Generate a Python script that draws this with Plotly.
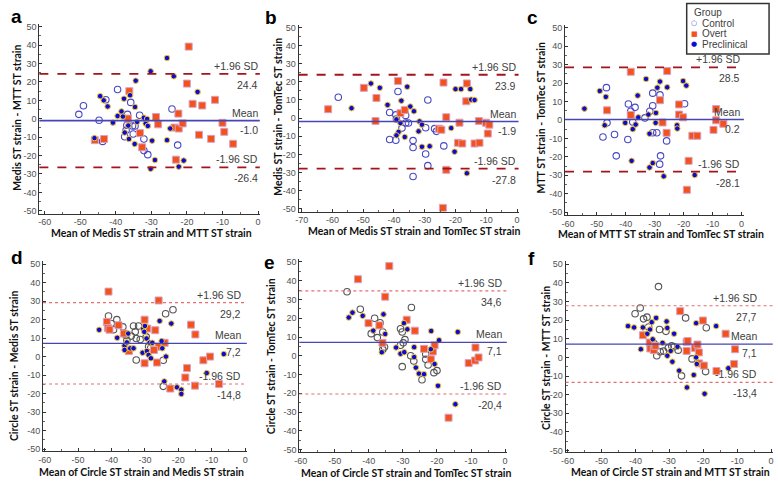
import plotly.graph_objects as go

W, H = 778, 481

# ---------------- data ----------------
# Panel a: Medis vs MTT
A_CONTROL_X = [-50.4, -49.1, -44.7, -43.7, -42.8, -39.5, -36.7, -35.8, -36.9, -37.1, -37.5, -35.3, -34.6, -35.1, -33.3, -32.1, -32.1, -31.0, -24.2, -22.6]
A_CONTROL_Y = [2.4, 7.1, -0.8, -12.3, 10.3, 15.9, 2.4, 8.9, -3.5, -6.2, -9.8, -3.9, -3.9, -8.3, 1.9, -11.0, -17.3, -19.5, 5.3, -14.3]
A_OVERT_X = [-45.9, -43.3, -36.2, -36.6, -33.2, -32.6, -28.7, -28.1, -23.5, -22.3, -21.2, -22.4, -23.1, -19.5, -20.0, -18.4, -15.7, -16.6, -13.2, -12.1, -10.0, -9.5, -7.0]
A_OVERT_Y = [-11.6, -11.0, 15.0, 0.1, -7.8, -15.5, 1.0, -3.0, -4.8, -5.3, -2.5, 2.8, -22.2, 39.2, 19.1, 8.1, 7.2, -8.7, -10.9, 10.3, -2.2, -7.1, -13.6]
A_PRE_X = [-46.0, -44.4, -43.4, -42.3, -40.8, -39.5, -38.4, -38.0, -37.7, -37.5, -36.5, -36.0, -36.3, -34.6, -34.4, -34.7, -34.0, -32.1, -31.6, -31.2, -31.0, -30.2, -30.2, -29.8, -29.0, -25.6, -25.6, -24.7, -23.7, -22.3, -20.9, -17.0]
A_PRE_Y = [-10.5, 12.3, 10.0, 6.7, -2.1, 1.5, 4.0, 1.2, 10.9, -7.5, -3.7, 12.8, -11.0, 6.4, 20.7, -13.7, -1.7, 0.6, -2.6, -0.1, -3.9, 25.8, -27.2, -11.9, -22.4, 33.0, -11.6, -5.3, 23.1, -26.0, -22.7, 14.6]
A_STATS = [-1.0, 24.4, -26.4]  # mean, upper, lower

# Panel b: Medis vs TomTec
B_CONTROL_X = [-58.1, -38.7, -41.4, -39.4, -39.2, -36.2, -36.2, -37.4, -35.3, -41.4, -39.4, -33.8, -33.8, -29.0, -29.7, -29.7, -29.0, -33.8, -26.8, -26.2, -23.8]
B_CONTROL_Y = [11.5, 14.7, 3.1, 1.8, -0.5, 1.5, -2.7, -5.5, -2.7, -11.8, -12.2, -12.4, -16.2, 10.0, -5.3, -19.8, -26.2, -32.2, -5.8, -7.3, -15.3]
B_OVERT_X = [-61.4, -49.8, -45.7, -46.0, -38.7, -37.9, -36.5, -23.9, -23.0, -25.4, -24.6, -23.0, -24.1, -18.7, -19.2, -17.8, -16.3, -16.5, -13.8, -12.2, -12.4, -10.1, -9.0, -9.5]
B_OVERT_Y = [4.9, 16.7, 11.1, -1.6, 20.5, 2.7, 4.5, 19.6, 0.5, -5.8, -6.4, -28.5, -49.5, -2.5, -13.6, -14.0, 19.1, 9.3, -14.0, -13.6, -1.6, -2.5, -3.6, -8.5]
B_PRE_X = [-53.8, -47.5, -44.6, -42.1, -37.6, -35.7, -34.7, -33.5, -39.2, -37.9, -38.5, -39.2, -36.5, -31.7, -30.9, -32.0, -30.9, -28.4, -21.4, -20.3, -20.0, -18.2, -15.2, -14.9, -13.8, -16.3]
B_PRE_Y = [5.5, 19.1, 16.7, 7.3, 9.6, 17.3, 6.4, 3.8, -0.7, -2.7, -7.6, -9.5, -10.4, -1.8, -3.6, -7.3, -15.8, -15.5, -5.5, -18.5, 16.0, 16.0, 16.0, 10.2, 10.0, -30.4]
B_STATS = [-1.9, 23.9, -27.8]

# Panel c: MTT vs TomTec
C_CONTROL_X = [-47.9, -46.7, -46.5, -43.9, -43.3, -39.1, -39.3, -38.3, -36.8, -37.6, -33.4, -31.7, -30.7, -30.7, -30.7, -29.3, -28.2, -28.0, -28.3, -25.9, -19.7]
C_CONTROL_Y = [-9.3, 17.5, -1.6, -7.9, -19.5, 8.6, -10.6, 4.7, 6.8, -1.1, 1.1, 4.7, 14.5, 7.7, -7.0, -7.0, 13.6, -19.5, -24.0, -11.4, 8.8]
C_OVERT_X = [-46.5, -38.3, -38.3, -28.2, -25.7, -27.3, -25.9, -21.6, -21.6, -20.2, -18.3, -18.9, -17.0, -15.3, -9.7, -8.8, -8.8, -6.3]
C_OVERT_Y = [5.2, 26.1, 2.7, 10.7, 26.5, -1.4, -7.0, 8.4, 2.9, 1.4, -22.2, -37.9, -8.6, -8.6, -5.4, 5.9, -0.2, -2.1]
C_PRE_X = [-54.3, -49.0, -46.9, -47.3, -40.2, -37.6, -36.6, -35.9, -35.7, -38.0, -33.0, -32.2, -31.8, -31.8, -30.7, -29.7, -29.6, -29.1, -28.2, -26.9, -25.7, -22.3, -22.2, -20.2, -19.1, -16.2]
C_PRE_Y = [6.1, 15.7, 12.5, -2.9, -1.6, -5.0, -2.5, 13.2, 1.4, -22.2, 22.2, 2.9, -7.5, -25.8, -23.4, -1.6, 3.8, 17.5, 20.8, -30.6, 17.7, -2.9, -4.7, 21.1, 18.6, -29.9]
C_STATS = [0.2, 28.5, -28.1]

# Panel d: Circle vs Medis
D_CONTROL_X = [-40.9, -40.1, -39.4, -38.4, -36.6, -35.7, -35.4, -34.1, -33.4, -32.9, -32.6, -31.9, -31.4, -32.6, -29.6, -28.9, -28.3, -23.8, -21.6, -24.5, -24.5]
D_CONTROL_Y = [22.0, 17.9, 14.6, 20.0, 16.1, 11.6, 8.9, 11.1, 16.6, 13.4, 9.8, 16.6, 9.3, -1.8, 10.7, 5.4, 4.5, 23.2, 25.4, -2.0, -16.1]
D_OVERT_X = [-40.9, -41.4, -41.1, -40.6, -37.9, -36.3, -34.8, -30.1, -29.3, -30.1, -26.9, -26.4, -25.9, -27.3, -25.9, -24.1, -22.4, -17.9, -17.4, -16.2, -14.9, -15.0, -12.5, -10.5, -7.8]
D_OVERT_Y = [35.2, 18.8, 15.5, 14.6, 17.0, 12.5, 3.0, 20.0, 15.2, -3.6, 14.3, -3.2, 5.4, 3.6, 30.4, 7.5, -17.3, -11.3, -6.2, 17.3, 12.0, -15.7, -2.0, 0.0, -14.8]
D_PRE_X = [-43.7, -38.3, -36.1, -36.1, -35.4, -35.0, -34.4, -33.4, -30.5, -30.2, -30.0, -29.5, -30.7, -29.4, -28.9, -28.2, -28.6, -27.8, -24.8, -25.0, -25.6, -23.7, -24.2, -22.1, -20.4, -19.1, -19.1, -11.5, -6.4]
D_PRE_Y = [14.5, 10.2, 5.9, 3.6, 7.7, 12.5, 4.5, 4.5, 15.2, 13.4, 16.6, 9.8, 2.1, 3.0, 0.9, -0.9, 7.5, 7.5, 4.5, 8.4, 19.3, 0.0, -13.4, 17.9, -16.6, -17.9, -20.2, -8.9, 1.4]
D_STATS = [7.2, 29.2, -14.8]

# Panel e: Circle vs TomTec
E_CONTROL_X = [-46.4, -42.5, -38.3, -39.3, -36.7, -37.5, -35.9, -35.9, -35.4, -30.7, -30.2, -30.7, -29.9, -29.4, -30.2, -27.5, -27.7, -26.8, -24.4, -23.3, -23.3, -22.6, -20.9, -20.0]
E_CONTROL_Y = [34.1, 24.8, 20.0, 11.8, 17.6, 9.7, 12.7, 3.3, 4.7, 14.4, 12.7, 5.6, 6.9, 8.6, -5.8, 25.7, 0.0, -2.8, -12.8, 0.9, -1.9, -4.9, -9.0, -7.9]
E_OVERT_X = [-43.2, -34.0, -35.2, -40.1, -36.9, -36.0, -28.9, -26.5, -23.8, -21.8, -21.2, -20.7, -16.6, -8.7, -10.7, -8.8, -7.8]
E_OVERT_Y = [40.8, 47.8, 31.5, 17.4, 16.2, 6.9, 19.2, 13.4, 3.7, -1.9, 2.3, 5.6, -33.0, 4.4, -3.9, -2.5, -0.9]
E_PRE_X = [-45.9, -44.8, -41.8, -38.7, -35.7, -35.2, -36.2, -32.0, -30.7, -29.6, -29.7, -28.7, -26.7, -26.7, -26.2, -25.3, -23.8, -21.7, -21.8, -20.7, -19.4, -19.7, -13.9, -14.6]
E_PRE_Y = [20.4, 23.0, 21.3, 13.4, 22.1, 11.6, 1.9, 4.4, 1.1, 1.9, 17.4, 14.1, 4.6, -0.7, -6.3, -9.5, -9.8, 13.2, 3.5, -4.4, 8.3, -16.0, 12.7, -25.8]
E_STATS = [7.1, 34.6, -20.4]

# Panel f: Circle vs MTT
F_CONTROL_X = [-40.1, -38.6, -37.6, -36.6, -36.1, -33.2, -32.9, -31.0, -34.5, -33.7, -32.7, -31.7, -30.3, -29.3, -28.6, -27.4, -26.4, -25.2, -19.1, -19.3, -23.3]
F_CONTROL_Y = [23.4, 26.5, 20.7, 21.6, 16.3, 38.0, 15.0, 14.0, 7.4, 0.9, 3.0, 3.4, 5.1, 6.2, 5.7, 3.9, -9.9, 21.2, 15.9, -7.6, -0.8]
F_OVERT_X = [-37.8, -35.8, -35.6, -34.6, -34.1, -26.8, -24.9, -24.6, -24.9, -22.5, -21.7, -21.3, -21.2, -20.1, -19.8, -16.1, -13.4, -10.6, -10.9]
F_OVERT_Y = [11.9, 8.0, 4.8, 3.9, 6.2, 24.8, 8.3, 8.8, 3.5, 5.1, 6.9, 2.7, -3.2, 19.8, -4.4, -7.3, 12.7, 4.4, -3.5]
F_PRE_X = [-42.2, -40.4, -38.4, -37.8, -36.5, -35.7, -35.2, -34.9, -33.9, -32.0, -30.8, -30.6, -30.6, -29.6, -28.6, -29.1, -27.6, -27.1, -24.8, -22.8, -22.1, -22.1, -21.9, -19.6, -16.2, -12.6]
F_PRE_Y = [16.8, 16.1, 4.4, 16.1, 12.7, 15.0, 18.9, 9.7, 21.2, 7.8, 19.3, 15.8, 0.9, 3.5, 12.7, -2.3, 5.7, -7.1, -16.1, -9.4, 18.4, 0.0, -3.5, -19.5, 16.8, -5.8]
F_STATS = [7.1, 27.7, -13.4]

X_TICKS_60 = [-60, -50, -40, -30, -20, -10, 0]
X_TICKS_70 = [-70, -60, -50, -40, -30, -20, -10, 0]
Y_TICKS = [50, 40, 30, 20, 10, 0, -10, -20, -30, -40, -50]

X_TITLES = ["Mean of Medis ST strain and MTT ST strain",
            "Mean of Medis ST strain and TomTec ST strain",
            "Mean of MTT ST strain and TomTec ST strain",
            "Mean of Circle ST strain and Medis ST strain",
            "Mean of Circle ST strain and TomTec ST strain",
            "Mean of Circle ST strain and MTT ST strain"]
Y_TITLES = ["Medis ST strain - MTT ST strain",
            "Medis ST strain - TomTec ST strain",
            "MTT ST strain - TomTec ST strain",
            "Circle ST strain - Medis ST strain",
            "Circle ST strain - TomTec ST strain",
            "Circle ST strain - MTT ST strain"]
LETTERS = ["a", "b", "c", "d", "e", "f"]
GROUPS = ["Control", "Overt", "Preclinical"]

# ---------------- layout geometry (pixels) ----------------
GEOM = [
    dict(xa=(-60, 40.0, 0, 255.0), xr=[-61.5, 0.5], ya=(25.0, 211.0), yr=[-51.5, 51.5], xt=X_TICKS_60,
         lab_x=0.5, xtitle=(148, 233.5), ytitle=(12, 117), letter=(12, 15), top=True),
    dict(xa=(-70, 299.0, 0, 516.0), xr=[-71.0, 0.5], ya=(25.7, 209.0), yr=[-51.5, 51.5], xt=X_TICKS_70,
         lab_x=0.3, xtitle=(412, 231), ytitle=(275, 116), letter=(268, 16), top=True),
    dict(xa=(-60, 567.3, 0, 742.3), xr=[-61.0, 0.8], ya=(26.0, 212.3), yr=[-51.5, 51.5], xt=X_TICKS_60,
         lab_x=0.3, xtitle=(661, 234.5), ytitle=(540, 117), letter=(532, 16), top=True),
    dict(xa=(-60, 40.0, 0, 242.0), xr=[-60.5, 0.5], ya=(265.0, 451.7), yr=[-51.0, 51.5], xt=X_TICKS_60,
         lab_x=-0.5, xtitle=(138, 475), ytitle=(9, 367), letter=(12, 258), top=False),
    dict(xa=(-60, 298.0, 0, 504.0), xr=[-60.4, 0.5], ya=(262.7, 452.3), yr=[-51.3, 51.5], xt=X_TICKS_60,
         lab_x=-0.3, xtitle=(404, 476), ytitle=(268, 358), letter=(267, 263), top=False),
    dict(xa=(-60, 567.0, 0, 772.0), xr=[-60.6, 0.5], ya=(265.0, 453.3), yr=[-51.0, 51.5], xt=X_TICKS_60,
         lab_x=-3.5, xtitle=(671, 475), ytitle=(545, 360), letter=(531, 259), top=False),
]

DATA = [
    (A_CONTROL_X, A_CONTROL_Y, A_OVERT_X, A_OVERT_Y, A_PRE_X, A_PRE_Y, A_STATS),
    (B_CONTROL_X, B_CONTROL_Y, B_OVERT_X, B_OVERT_Y, B_PRE_X, B_PRE_Y, B_STATS),
    (C_CONTROL_X, C_CONTROL_Y, C_OVERT_X, C_OVERT_Y, C_PRE_X, C_PRE_Y, C_STATS),
    (D_CONTROL_X, D_CONTROL_Y, D_OVERT_X, D_OVERT_Y, D_PRE_X, D_PRE_Y, D_STATS),
    (E_CONTROL_X, E_CONTROL_Y, E_OVERT_X, E_OVERT_Y, E_PRE_X, E_PRE_Y, E_STATS),
    (F_CONTROL_X, F_CONTROL_Y, F_OVERT_X, F_OVERT_Y, F_PRE_X, F_PRE_Y, F_STATS),
]

TICK_FONT = dict(family="Liberation Sans Narrow, Arial Narrow, Liberation Sans, Arial", size=9, color="#505050")
LBL_FONT = dict(family="Liberation Sans, Arial", size=10.5, color="#404040")
TITLE_FONT = dict(family="Lato, Calibri, Liberation Sans", size=10.5, color="#111111")

OVERT_FILL = "#f4521c"
OVERT_EDGE = "#d7a3c3"
PRE_FILL = "#0b0bd6"
PRE_EDGE = "#f2c62c"
CTRL_TOP = "#4848c4"
CTRL_BOT = "#555555"
MEAN_COL = "#4646b4"


def x_domain(g):
    v0, p0, v1, p1 = g["xa"]
    s = (p1 - p0) / (v1 - v0)
    a = p0 + (g["xr"][0] - v0) * s
    b = p0 + (g["xr"][1] - v0) * s
    return [a / W, b / W]


def y_domain(g):
    p50, pm50 = g["ya"]
    s = (pm50 - p50) / 100.0
    top = p50 - (g["yr"][1] - 50) * s
    bot = pm50 + (-50 - g["yr"][0]) * s
    return [1 - bot / H, 1 - top / H]


fig = go.Figure()
shapes = []
annotations = []
layout_axes = {}


def fmt(v, top):
    s = f"{v:.1f}"
    return s if top else s.replace(".", ",")


for i, (g, d) in enumerate(zip(GEOM, DATA), start=1):
    xn = "x" if i == 1 else f"x{i}"
    yn = "y" if i == 1 else f"y{i}"
    cx, cy, ox, oy, px, py, stats = d
    ctrl_col = CTRL_TOP if g["top"] else CTRL_BOT

    fig.add_trace(go.Scatter(x=cx, y=cy, mode="markers", xaxis=xn, yaxis=yn, name=GROUPS[0],
                             showlegend=False,
                             marker=dict(symbol="circle-open", size=6.5, color=ctrl_col,
                                         line=dict(width=1.1, color=ctrl_col))))
    fig.add_trace(go.Scatter(x=ox, y=oy, mode="markers", xaxis=xn, yaxis=yn, name=GROUPS[1],
                             showlegend=False,
                             marker=dict(symbol="square", size=7, color=OVERT_FILL,
                                         line=dict(width=1, color=OVERT_EDGE))))
    fig.add_trace(go.Scatter(x=px, y=py, mode="markers", xaxis=xn, yaxis=yn, name=GROUPS[2],
                             showlegend=False,
                             marker=dict(symbol="circle", size=5.5, color=PRE_FILL,
                                         line=dict(width=1, color=PRE_EDGE))))

    axis_common = dict(showline=True, linecolor="#333333", linewidth=1, ticks="inside",
                       ticklen=3, tickwidth=1, tickcolor="#333333", showgrid=False,
                       zeroline=False, tickfont=TICK_FONT, fixedrange=True,
                       minor=dict(ticks="inside", ticklen=2, dtick=5, tickcolor="#666666", showgrid=False))
    layout_axes["xaxis" if i == 1 else f"xaxis{i}"] = dict(
        axis_common, domain=x_domain(g), range=g["xr"], anchor=yn,
        tickmode="array", tickvals=g["xt"], ticktext=[str(v) for v in g["xt"]])
    layout_axes["yaxis" if i == 1 else f"yaxis{i}"] = dict(
        axis_common, domain=y_domain(g), range=g["yr"], anchor=xn,
        tickmode="array", tickvals=Y_TICKS, ticktext=[str(v) for v in Y_TICKS])

    mean, up, lo = stats
    xdom = f"{xn} domain"
    shapes.append(dict(type="line", xref=xdom, yref=yn, x0=0, x1=1, y0=mean, y1=mean,
                       line=dict(color=MEAN_COL, width=1.6 if g["top"] else 1.3)))
    for lim in (up, lo):
        if g["top"]:
            ln = dict(color="#a3141c", width=1.8, dash="dash")
        else:
            ln = dict(color="#e07070", width=1.1, dash="dot")
        shapes.append(dict(type="line", xref=xdom, yref=yn, x0=0, x1=1, y0=lim, y1=lim, line=ln))

    for val, above in ((up, "+1.96 SD"), (mean, "Mean"), (lo, "-1.96 SD")):
        annotations.append(dict(xref=xn, yref=yn, x=g["lab_x"], y=val, text=above, showarrow=False,
                                xanchor="right", yanchor="bottom", yshift=0, font=LBL_FONT))
        annotations.append(dict(xref=xn, yref=yn, x=g["lab_x"], y=val, text=fmt(val, g["top"]),
                                showarrow=False, xanchor="right", yanchor="top",
                                yshift=-3 if val != mean else -1, font=LBL_FONT))

    tx, ty = g["xtitle"]
    annotations.append(dict(xref="paper", yref="paper", x=tx / W, y=1 - ty / H, text=f"<b>{X_TITLES[i-1]}</b>",
                            showarrow=False, xanchor="center", yanchor="middle", font=TITLE_FONT))
    yx, yy = g["ytitle"]
    annotations.append(dict(xref="paper", yref="paper", x=yx / W, y=1 - yy / H, text=f"<b>{Y_TITLES[i-1]}</b>",
                            showarrow=False, xanchor="center", yanchor="middle", textangle=-90,
                            font=TITLE_FONT))
    lx, ly = g["letter"]
    annotations.append(dict(xref="paper", yref="paper", x=lx / W, y=1 - ly / H, text=f"<b>{LETTERS[i-1]}</b>",
                            showarrow=False, xanchor="center", yanchor="middle",
                            font=dict(family="Liberation Sans, Arial", size=19, color="#000000")))

# manual legend box (top right)
LEG_FONT = dict(family="Liberation Sans, Arial", size=10, color="#404040")
shapes.append(dict(type="rect", xref="paper", yref="paper", x0=687 / W, x1=770 / W, y0=1 - 52.5 / H, y1=1 - 1.5 / H,
                   line=dict(color="#333333", width=1.5), fillcolor="rgba(255,255,255,0)"))
legend_rows = [
    ("Group", None, 10.5),
    ("Control", f"<span style='color:{CTRL_TOP}'>○</span>", 21.5),
    ("Overt", f"<span style='color:{OVERT_FILL}'>■</span>", 32.0),
    ("Preclinical", f"<span style='color:{PRE_FILL}'>●</span>", 42.5),
]
for label, sym, yp in legend_rows:
    if sym is None:
        annotations.append(dict(xref="paper", yref="paper", x=692 / W, y=1 - yp / H, text=label,
                                showarrow=False, xanchor="left", yanchor="middle", font=LEG_FONT))
    else:
        annotations.append(dict(xref="paper", yref="paper", x=694.5 / W, y=1 - yp / H, text=sym,
                                showarrow=False, xanchor="center", yanchor="middle",
                                font=dict(family="DejaVu Sans", size=7, color="#404040")))
        annotations.append(dict(xref="paper", yref="paper", x=700 / W, y=1 - yp / H, text=label,
                                showarrow=False, xanchor="left", yanchor="middle", font=LEG_FONT))

fig.update_layout(width=W, height=H, margin=dict(l=0, r=0, t=0, b=0), autosize=False,
                  paper_bgcolor="white", plot_bgcolor="white", showlegend=False,
                  shapes=shapes, annotations=annotations, **layout_axes)

fig.write_html("out.html", config=dict(displayModeBar=False),
               post_script="document.body.style.margin='0';document.body.style.padding='0';"
                           "document.body.style.overflow='hidden';")
